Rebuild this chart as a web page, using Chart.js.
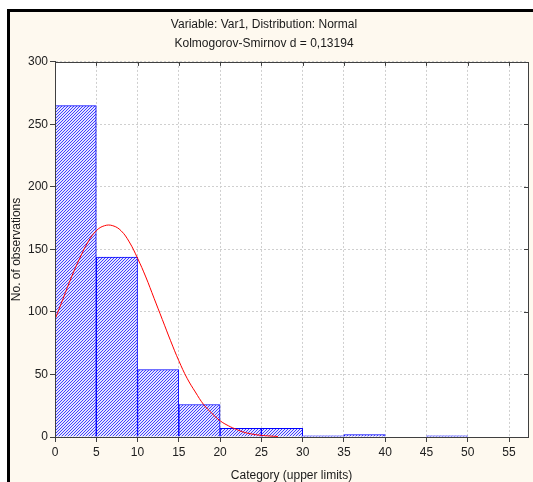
<!DOCTYPE html>
<html>
<head>
<meta charset="utf-8">
<script src="https://cdn.jsdelivr.net/npm/chart.js@4/dist/chart.umd.min.js"></script>
<style>
  html, body { margin: 0; padding: 0; background: #ffffff; overflow: hidden; }
  #frame {
    position: absolute; left: 7px; top: 9px; width: 560px; height: 500px;
    background: #fef9ef; border-left: 3px solid #000; border-top: 3px solid #000;
  }
  #wrap { position: absolute; left: 0; top: 0; width: 533px; height: 482px; }
</style>
</head>
<body>
<div id="frame"></div>
<div id="wrap"><canvas id="histChart"></canvas></div>
<script>
// histogram bins (upper limits) and observed counts
const upperLimits = [5, 10, 15, 20, 25, 30, 35, 40, 45, 50];
const counts = [265, 144, 54, 26, 7, 7, 1, 2, 0, 1];
const binWidth = 5;

// fitted normal curve
const curveX = [0, 1, 2, 3, 4, 5, 6, 7, 8, 9, 10, 11, 12, 13, 14, 15, 16, 17, 18, 19, 20, 21, 22, 23, 24, 25, 26, 27];
const curveY = [94, 111, 128, 143, 156, 165, 169, 169, 165, 156, 143, 128, 111, 94, 77, 61, 47, 36, 26, 19, 13, 9, 6, 3.6, 2.2, 1.3, 0.8, 0.4];

const xTicks = [0, 5, 10, 15, 20, 25, 30, 35, 40, 45, 50, 55];
const yTicks = [0, 50, 100, 150, 200, 250, 300];

const txtFont = "'Liberation Sans', Arial, sans-serif";

// diagonal hatch fill
function makeHatch() {
	const c = document.createElement('canvas');
	c.width = 3;
	c.height = 3;
	const g = c.getContext('2d');
	g.fillStyle = '#e4e4ff';
	g.fillRect(0, 0, 3, 3);
	g.fillStyle = '#4040ff';
	for (let i = 0; i < 3; i++) g.fillRect(i, 2 - i, 1, 1);
	return g.createPattern(c, 'repeat');
}

const barData = upperLimits.map((u, i) => ({ x: u - binWidth / 2, y: counts[i] }));
const lineData = curveX.map((x, i) => ({ x: x, y: curveY[i] }));

// white plot area, frame and mirrored ticks on top/right
const plotFrame = {
	id: 'plotFrame',
	beforeDraw(chart) {
		const a = chart.chartArea;
		const ctx = chart.ctx;
		ctx.save();
		ctx.fillStyle = '#ffffff';
		ctx.fillRect(a.left, a.top, a.right - a.left, a.bottom - a.top);
		ctx.restore();
	},
	afterDraw(chart) {
		const a = chart.chartArea;
		const ctx = chart.ctx;
		const xs = chart.scales.x, ys = chart.scales.y;
		ctx.save();
		ctx.strokeStyle = '#404040';
		ctx.lineWidth = 1;
		ctx.beginPath();
		xs.ticks.forEach(t => {
			const px = Math.round(xs.getPixelForValue(t.value)) + 0.5;
			ctx.moveTo(px, a.top);
			ctx.lineTo(px, a.top + 4);
		});
		ys.ticks.forEach(t => {
			const py = Math.round(ys.getPixelForValue(t.value)) + 0.5;
			ctx.moveTo(a.right, py);
			ctx.lineTo(a.right - 4, py);
		});
		ctx.stroke();
		ctx.strokeRect(Math.round(a.left) + 0.5, Math.round(a.top) + 0.5, Math.round(a.right - a.left), Math.round(a.bottom - a.top));
		ctx.restore();
	}
};

const ctx = document.getElementById('histChart').getContext('2d');
new Chart(ctx, {
	type: 'bar',
	data: {
		datasets: [
			{
				type: 'line',
				data: lineData,
				borderColor: '#ff0000',
				borderWidth: 1,
				pointRadius: 0,
				tension: 0.4,
				fill: false,
				order: 0
			},
			{
				type: 'bar',
				data: barData,
				backgroundColor: makeHatch(),
				borderColor: '#0000ff',
				borderWidth: 1,
				barPercentage: 1,
				categoryPercentage: 1,
				order: 1
			}
		]
	},
	options: {
		responsive: true,
		maintainAspectRatio: false,
		animation: false,
		layout: { padding: { left: 0, right: 5, top: 0, bottom: 0 } },
		plugins: {
			legend: { display: false },
			tooltip: { enabled: false },
			title: {
				display: true,
				text: ['Variable: Var1, Distribution: Normal', 'Kolmogorov-Smirnov d = 0,13194'],
				color: '#1a1a1a',
				font: { family: txtFont, size: 12, weight: 'normal', lineHeight: 1.58 },
				padding: { top: 15, bottom: 9 }
			}
		},
		scales: {
			x: {
				type: 'linear',
				min: 0,
				max: 57.3,
				offset: false,
				afterFit: (s) => { s.height = 45; },
				afterBuildTicks: (s) => { s.ticks = xTicks.map(v => ({ value: v })); },
				ticks: { color: '#202020', padding: 3, font: { family: txtFont, size: 12 }, maxRotation: 0, autoSkip: false },
				grid: { offset: false, color: '#cfcfcf', tickColor: '#404040', tickLength: 5 },
				border: { color: '#404040', dash: [2, 2] },
				title: {
					display: true,
					text: 'Category (upper limits)',
					color: '#1a1a1a',
					font: { family: txtFont, size: 12, lineHeight: 1 },
					padding: { top: 0, bottom: 0 }
				}
			},
			y: {
				min: 0,
				max: 300,
				afterFit: (s) => { s.width = 55; },
				afterBuildTicks: (s) => { s.ticks = yTicks.map(v => ({ value: v })); },
				ticks: { color: '#202020', padding: 2, font: { family: txtFont, size: 12 } },
				grid: { color: '#cfcfcf', tickColor: '#404040', tickLength: 5 },
				border: { color: '#404040', dash: [2, 2] },
				title: {
					display: true,
					text: 'No. of observations',
					color: '#1a1a1a',
					font: { family: txtFont, size: 12, lineHeight: 1 },
					padding: { top: 11, bottom: 0 }
				}
			}
		}
	},
	plugins: [plotFrame]
});
</script>
</body>
</html>
